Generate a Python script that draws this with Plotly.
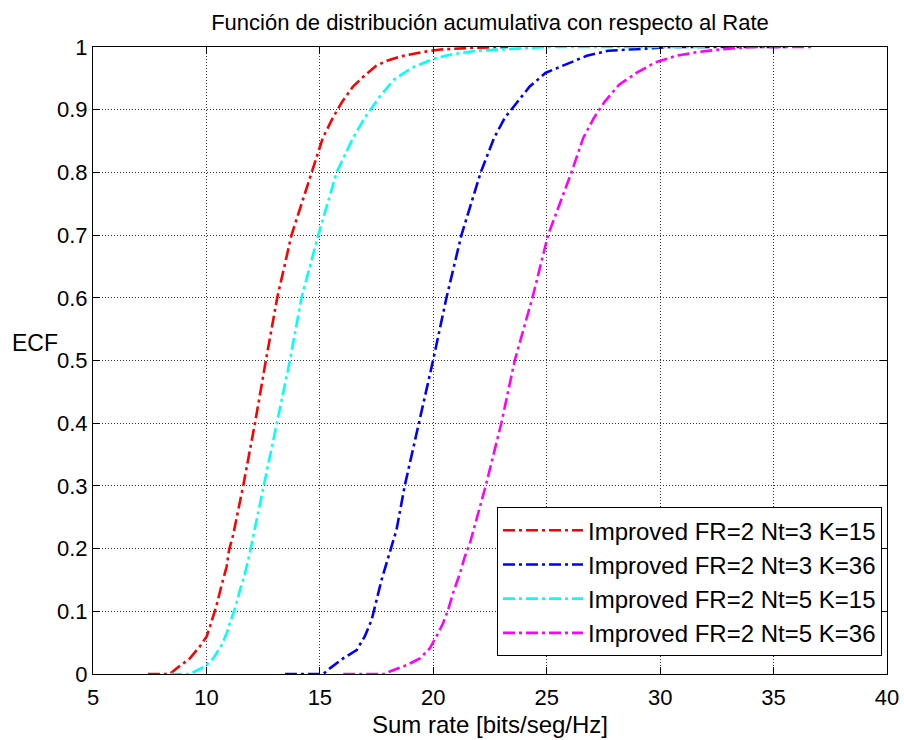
import plotly.graph_objects as go

# Empirical CDF of the sum rate for each configuration (x: bits/seg/Hz, y: ECF)
labels = [
    "Improved FR=2 Nt=3 K=15",
    "Improved FR=2 Nt=3 K=36",
    "Improved FR=2 Nt=5 K=15",
    "Improved FR=2 Nt=5 K=36",
]
colors = ["#FF0000", "#0000FF", "#00FFFF", "#FF00FF"]

x_nt3_k15 = [7.42, 8.39, 8.69, 9.27, 9.71, 10.01, 10.15, 10.33, 10.45, 10.67, 10.89, 11.0,
             11.18, 11.62, 12.14, 12.62, 13.12, 13.75, 14.63, 15.13, 15.6, 15.99, 16.46,
             16.93, 17.48, 17.96, 18.67, 19.53, 20.32, 21.89, 23.3]
y_nt3_k15 = [0, 0, 0.009, 0.025, 0.044, 0.06, 0.075, 0.094, 0.11, 0.142, 0.171, 0.198,
             0.222, 0.3, 0.4, 0.5, 0.6, 0.7, 0.8, 0.855, 0.889, 0.913, 0.937,
             0.953, 0.970, 0.978, 0.986, 0.992, 0.996, 0.999, 1.0]

x_nt3_k36 = [13.46, 15.15, 15.44, 16.03, 16.62, 16.98, 17.28, 17.5, 17.72, 17.94, 18.16,
             18.38, 18.74, 19.37, 19.99, 20.58, 21.24, 22.09, 22.68, 23.15, 23.62, 24.25,
             24.96, 25.82, 26.77, 27.71, 28.97, 30.5, 35.56]
y_nt3_k36 = [0, 0, 0.009, 0.025, 0.038, 0.06, 0.086, 0.118, 0.15, 0.177, 0.203,
             0.23, 0.3, 0.4, 0.5, 0.6, 0.7, 0.8, 0.855, 0.887, 0.908, 0.937,
             0.959, 0.972, 0.986, 0.994, 0.997, 1.0, 1.0]

x_nt5_k15 = [8.39, 9.27, 9.93, 10.3, 10.67, 10.89, 11.11, 11.26, 11.48, 11.7, 11.92, 12.06,
             12.53, 13.09, 13.68, 14.19, 14.93, 15.74, 16.46, 17.01, 17.64, 18.27, 19.06,
             20.0, 20.79, 21.89, 23.31, 25.0, 32.0]
y_nt5_k15 = [0, 0, 0.012, 0.025, 0.046, 0.065, 0.089, 0.105, 0.134, 0.16, 0.195, 0.219,
             0.3, 0.4, 0.5, 0.6, 0.7, 0.8, 0.855, 0.889, 0.921, 0.948, 0.967,
             0.981, 0.988, 0.994, 0.997, 1.0, 1.0]

x_nt5_k36 = [16.03, 17.94, 18.08, 18.82, 19.41, 19.85, 20.14, 20.43, 20.65, 20.87, 21.17,
             21.39, 21.61, 22.31, 23.0, 23.59, 24.37, 25.06, 26.09, 26.61, 27.08, 27.56,
             28.19, 28.97, 29.76, 30.7, 31.65, 32.9, 34.0, 36.66]
y_nt5_k36 = [0, 0, 0.004, 0.014, 0.025, 0.041, 0.06, 0.081, 0.102, 0.129, 0.16,
             0.187, 0.208, 0.3, 0.4, 0.5, 0.6, 0.7, 0.8, 0.855, 0.887, 0.913,
             0.94, 0.959, 0.975, 0.986, 0.992, 0.997, 1.0, 1.0]

xs = [x_nt3_k15, x_nt3_k36, x_nt5_k15, x_nt5_k36]
ys = [y_nt3_k15, y_nt3_k36, y_nt5_k15, y_nt5_k36]

FONT = "Liberation Sans, Arial, sans-serif"

fig = go.Figure()
for x, y, name, c in zip(xs, ys, labels, colors):
    fig.add_trace(go.Scatter(
        x=x, y=y, mode="lines", name=name,
        line=dict(color=c, width=2.6, dash="12px,4px,3px,4px"),
    ))

axis_common = dict(
    showline=True, linecolor="black", linewidth=1, mirror="ticks",
    ticks="inside", ticklen=7, tickcolor="black", automargin=False,
    showgrid=True, gridcolor="#333333", gridwidth=1, griddash="1px,2px",
    zeroline=False, tickfont=dict(family=FONT, size=22, color="black"),
)

fig.update_xaxes(range=[5, 40], dtick=5, tick0=5, ticklabelstandoff=4,
                 title=dict(text="Sum rate [bits/seg/Hz]",
                            font=dict(family=FONT, size=24, color="black"),
                            standoff=6),
                 **axis_common)
fig.update_yaxes(range=[0, 1], dtick=0.1, tick0=0, **axis_common)

fig.add_annotation(text="ECF", xref="paper", yref="paper",
                   x=-0.105, y=0.528, xanchor="left", yanchor="middle",
                   showarrow=False, font=dict(family=FONT, size=23, color="black"))

fig.update_layout(
    width=904, height=740,
    margin=dict(l=93, r=17, t=47, b=66),
    paper_bgcolor="white", plot_bgcolor="white",
    title=dict(text="Función de distribución acumulativa con respecto al Rate",
               font=dict(family=FONT, size=22, color="black"),
               x=0.5, xref="paper", xanchor="center",
               y=1 - 22 / 740, yref="container", yanchor="middle"),
    legend=dict(x=0.9937, y=0.0285, xanchor="right", yanchor="bottom",
                bgcolor="white", bordercolor="black", borderwidth=1,
                font=dict(family=FONT, size=24, color="black"),
                itemwidth=80, tracegroupgap=0),
    showlegend=True,
)

fig.write_html("out.html")
